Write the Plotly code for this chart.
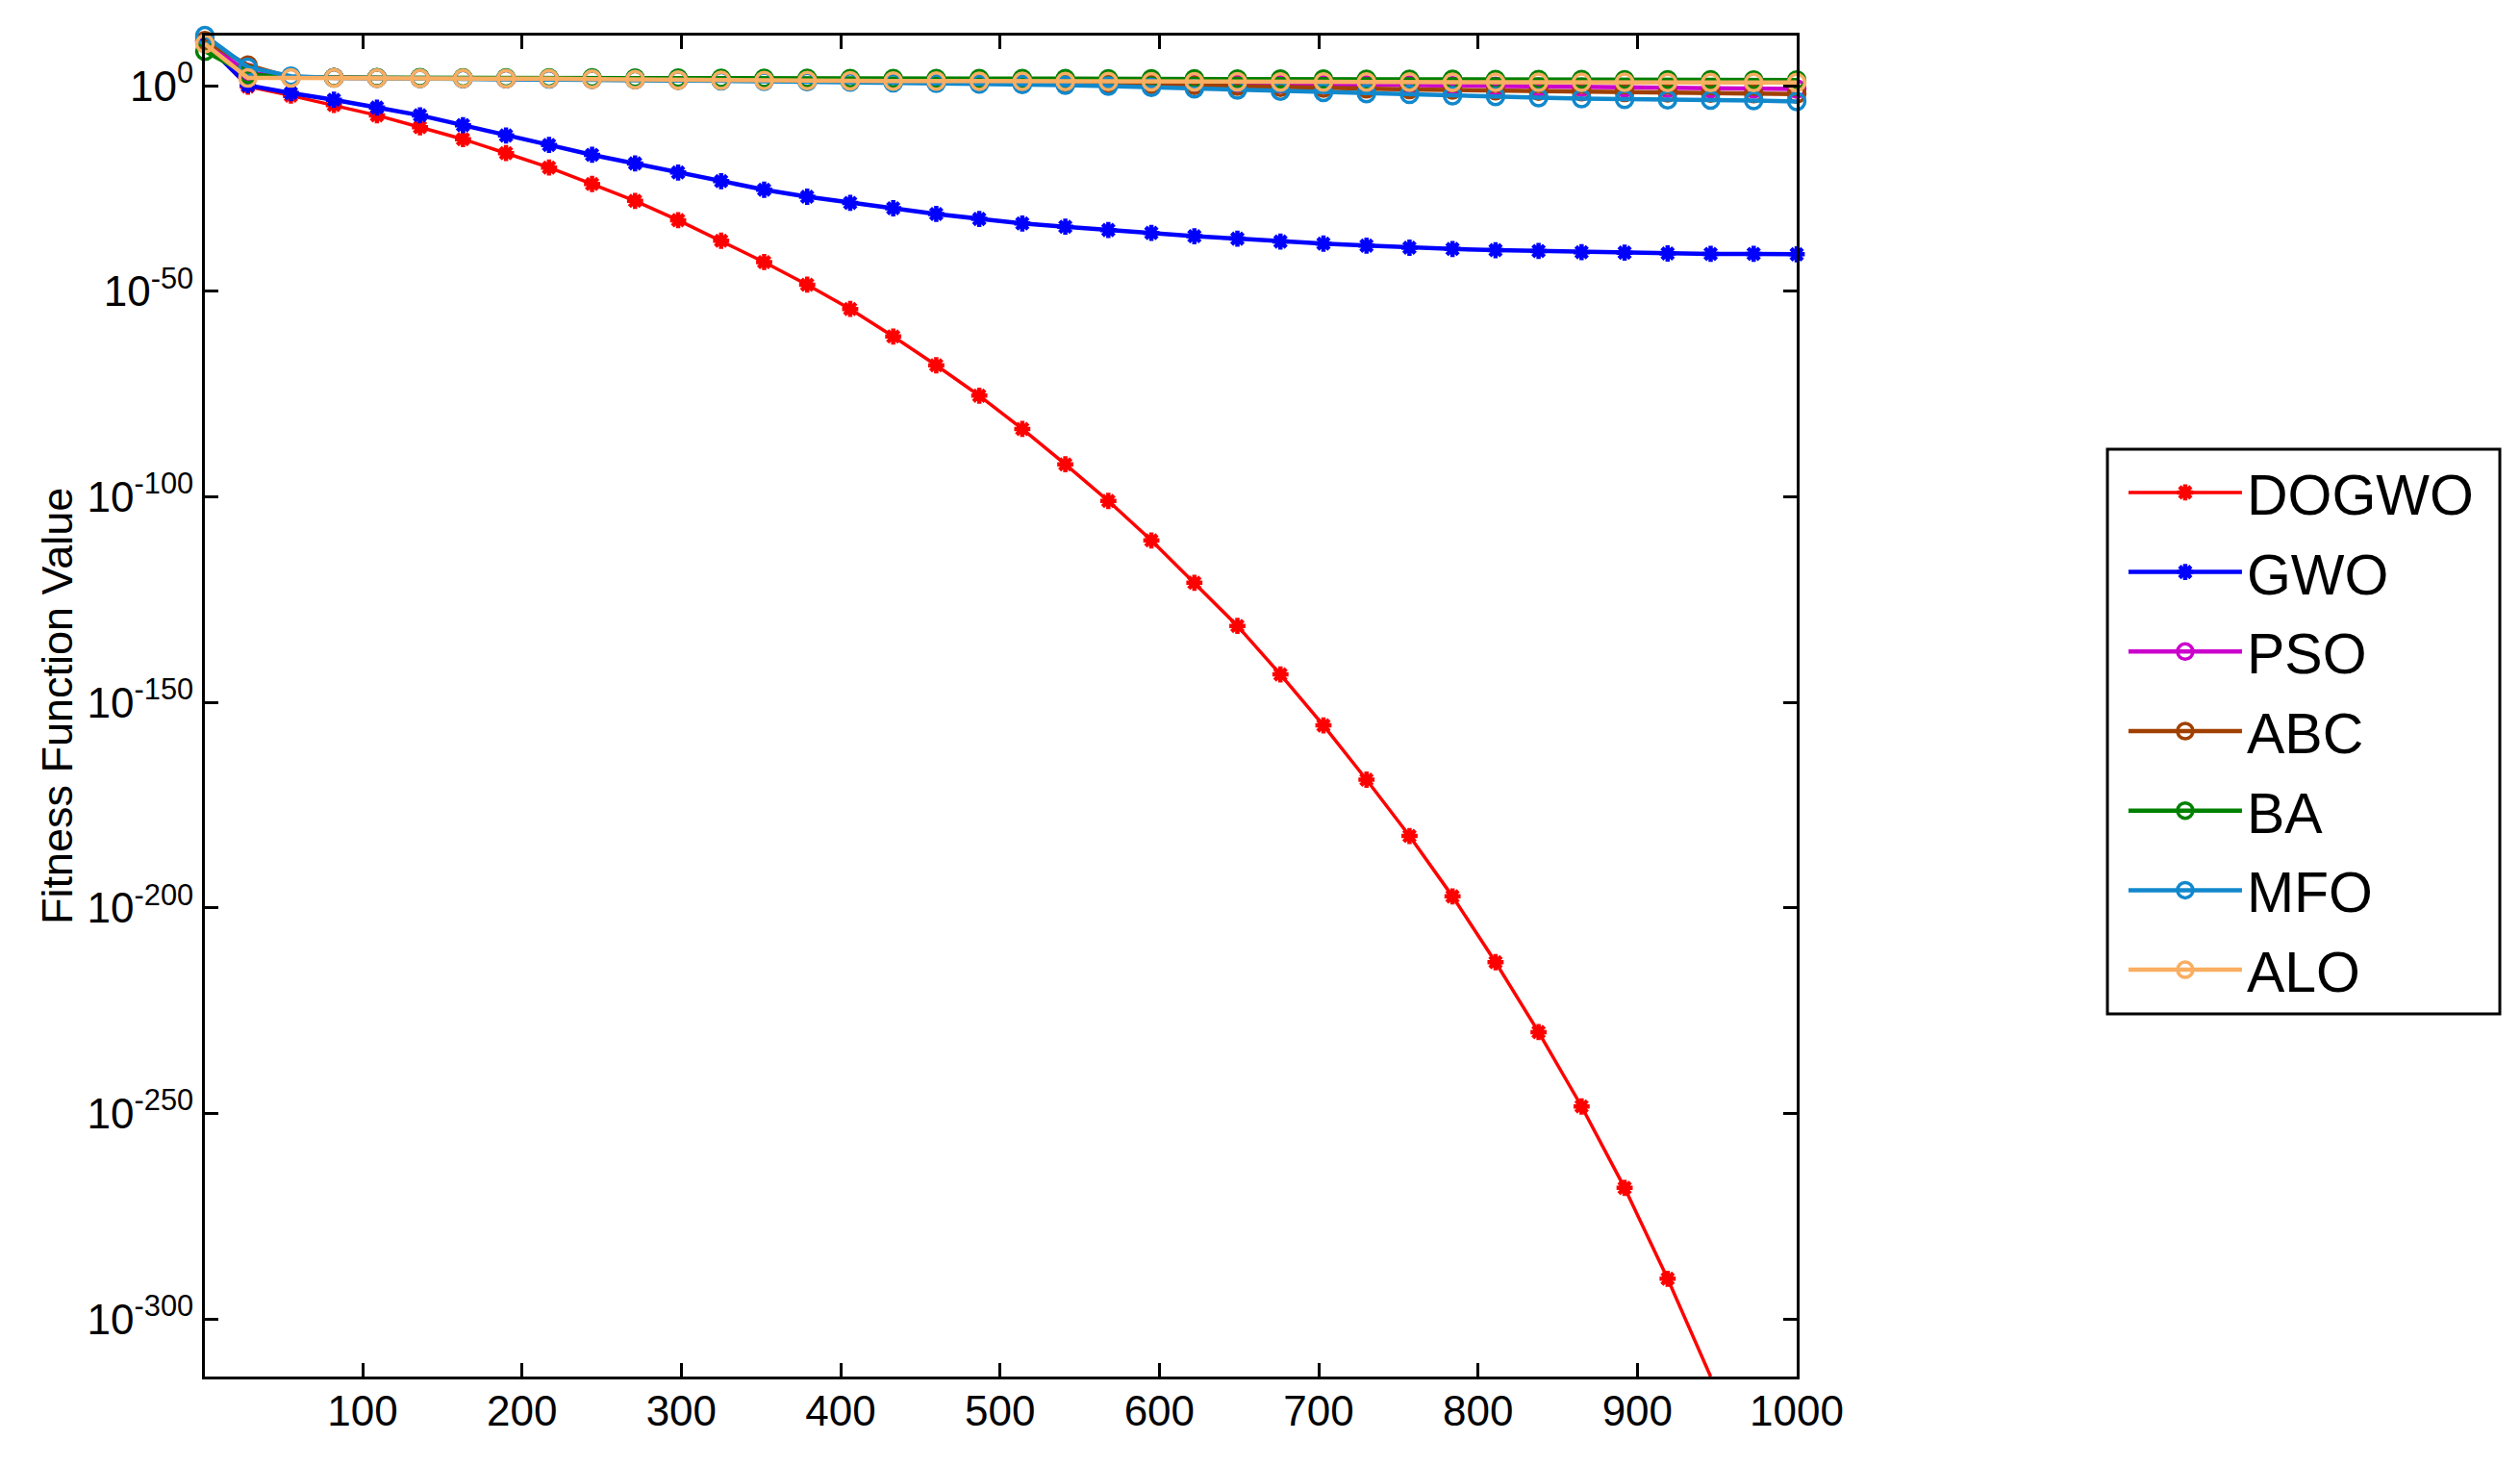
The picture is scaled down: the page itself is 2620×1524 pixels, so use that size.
import plotly.graph_objects as go

# iterations where the curves were sampled (every 27th iteration)
iterations = [1, 28, 55, 82, 109, 136, 163, 190, 217, 244, 271, 298, 325, 352,
              379, 406, 433, 460, 487, 514, 541, 568, 595, 622, 649, 676, 703,
              730, 757, 784, 811, 838, 865, 892, 919, 946, 973, 1000]

# best fitness, given as log10 of the value
log_dogwo = [10.6, -0.2, -2.4, -4.7, -7.2, -10.1, -13.0, -16.4, -19.9, -23.9,
             -28.0, -32.7, -37.7, -42.9, -48.4, -54.3, -61.0, -68.0, -75.4,
             -83.5, -92.1, -101.0, -110.6, -120.9, -131.4, -143.2, -155.6,
             -168.8, -182.5, -197.2, -213.2, -230.2, -248.3, -268.1, -290.2,
             -314.0, None, None]
log_gwo = [10.4, 0.1, -1.8, -3.4, -5.3, -7.2, -9.6, -12.1, -14.4, -16.8, -18.9,
           -21.1, -23.2, -25.3, -27.0, -28.5, -29.8, -31.2, -32.4, -33.5, -34.3,
           -35.1, -35.8, -36.6, -37.2, -37.9, -38.4, -38.9, -39.4, -39.7, -40.0,
           -40.2, -40.5, -40.6, -40.8, -40.9, -40.9, -41.0]
log_pso = [10.8, 3.2, 2.0, 1.95, 1.9, 1.85, 1.8, 1.75, 1.7, 1.65, 1.6, 1.55,
           1.45, 1.4, 1.35, 1.3, 1.25, 1.2, 1.1, 1.05, 1.0, 0.9, 0.8, 0.7, 0.6,
           0.5, 0.4, 0.3, 0.15, 0.0, -0.15, -0.3, -0.4, -0.5, -0.6, -0.65,
           -0.7, -0.8]
log_abc = [11.0, 5.0, 2.0, 1.95, 1.9, 1.85, 1.8, 1.75, 1.7, 1.6, 1.5, 1.4, 1.3,
           1.25, 1.15, 1.1, 1.0, 0.9, 0.8, 0.7, 0.6, 0.5, 0.35, 0.1, -0.1,
           -0.35, -0.55, -0.75, -0.9, -1.05, -1.2, -1.3, -1.45, -1.6, -1.7,
           -1.8, -1.9, -2.0]
log_ba = [8.4, 2.8, 2.0, 1.95, 1.95, 1.95, 1.9, 1.9, 1.9, 1.9, 1.85, 1.85, 1.8,
          1.8, 1.8, 1.75, 1.75, 1.75, 1.7, 1.7, 1.7, 1.65, 1.65, 1.65, 1.6,
          1.6, 1.6, 1.55, 1.55, 1.55, 1.5, 1.5, 1.5, 1.45, 1.45, 1.45, 1.4, 1.4]
log_mfo = [12.2, 4.5, 2.3, 1.9, 1.85, 1.8, 1.75, 1.7, 1.65, 1.6, 1.5, 1.4, 1.2,
           1.1, 1.0, 0.9, 0.75, 0.6, 0.45, 0.3, 0.15, -0.1, -0.4, -0.7, -1.0,
           -1.3, -1.6, -1.9, -2.1, -2.4, -2.6, -2.9, -3.1, -3.3, -3.4, -3.5,
           -3.6, -3.8]
log_alo = [10.2, 1.9, 1.9, 1.9, 1.85, 1.8, 1.8, 1.75, 1.7, 1.6, 1.5, 1.4, 1.3,
           1.28, 1.25, 1.2, 1.17, 1.13, 1.1, 1.07, 1.04, 1.0, 0.98, 0.96, 0.95,
           0.93, 0.92, 0.9, 0.89, 0.87, 0.86, 0.85, 0.84, 0.83, 0.82, 0.81,
           0.8, 0.8]

names = ["DOGWO", "GWO", "PSO", "ABC", "BA", "MFO", "ALO"]
colors = ["#FF0000", "#0000FF", "#CC00CC", "#A04000", "#008000", "#1188CC", "#F9AE62"]

x_ticks = [100, 200, 300, 400, 500, 600, 700, 800, 900, 1000]
y_ticks = [0, -50, -100, -150, -200, -250, -300]

FONT = "Liberation Sans, Arial, sans-serif"


def to_value(logs):
    return [None if v is None else 10.0 ** v for v in logs]


series = [log_dogwo, log_gwo, log_pso, log_abc, log_ba, log_mfo, log_alo]

fig = go.Figure()
for i, (name, logs) in enumerate(zip(names, series)):
    if i < 2:
        marker = dict(symbol="asterisk-open", size=14, color=colors[i],
                      line=dict(width=4.5, color=colors[i]))
        width = 3.5 if i == 0 else 4.5
    else:
        marker = dict(symbol="circle-open", size=17, color=colors[i],
                      line=dict(width=3.5, color=colors[i]))
        width = 4.5
    fig.add_trace(go.Scatter(
        x=iterations, y=to_value(logs), name=name, mode="lines+markers",
        legendgroup=name,
        line=dict(color=colors[i], width=width), marker=marker,
        cliponaxis=False,
    ))

axis_style = dict(showline=True, linecolor="black", linewidth=3, mirror="ticks",
                  ticks="inside", ticklen=14, tickwidth=3, tickcolor="black",
                  showgrid=False, zeroline=False)

fig.update_xaxes(range=[1, 1000], tickvals=x_ticks, ticklabelstandoff=-5,
                 tickfont=dict(family=FONT, size=44, color="black"),
                 **axis_style)
fig.update_yaxes(type="log", range=[-314.0, 12.2],
                 tickvals=[10.0 ** t for t in y_ticks],
                 ticktext=["10<sup>%d</sup>" % t for t in y_ticks],
                 tickfont=dict(family=FONT, size=44, color="black"),
                 **axis_style)

# y axis title as an annotation, sitting close to the tick labels
fig.add_annotation(text="Fitness Function Value", xref="paper", yref="paper",
                   x=-0.093, y=0.5, xanchor="center", yanchor="middle",
                   textangle=-90, showarrow=False,
                   font=dict(family=FONT, size=45, color="black"))

# legend frame drawn as a shape so the padding matches the original
fig.add_shape(type="rect", xref="paper", yref="paper",
              x0=1.1952, x1=1.4417, y0=0.2704, y1=0.6915,
              line=dict(color="black", width=3), fillcolor="white", layer="below")

fig.update_layout(
    width=2620, height=1524,
    margin=dict(l=205, r=760, t=29, b=101),
    paper_bgcolor="white", plot_bgcolor="white",
    showlegend=True,
    legend=dict(x=1.2054, y=0.6915, xanchor="left", yanchor="top",
                bgcolor="rgba(0,0,0,0)", borderwidth=0,
                traceorder="grouped", tracegroupgap=3,
                itemwidth=118,
                font=dict(family=FONT, size=59, color="black")),
)

fig.write_html("out.html")
